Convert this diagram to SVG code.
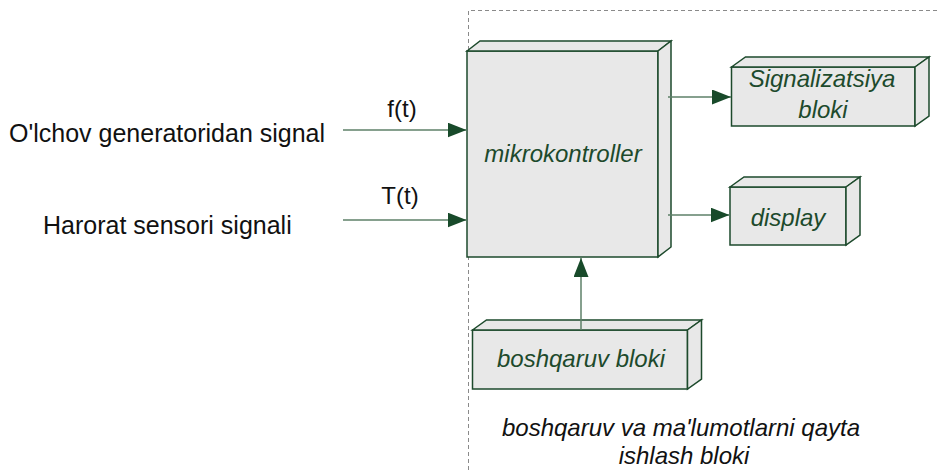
<svg xmlns="http://www.w3.org/2000/svg" width="939" height="470" viewBox="0 0 939 470">
<style>
.face{fill:#e8e8e8;stroke:#1d4a2c;stroke-width:1.5;stroke-linejoin:miter}
.lbl{font-family:"Liberation Sans",Arial,sans-serif;font-style:italic;font-size:24px;fill:#1d4a2c}
.txt{font-family:"Liberation Sans",Arial,sans-serif;font-size:24px;fill:#111}
.conn{stroke:#5e8069;stroke-width:1.5;fill:none}
.frame{stroke:#8a8a8a;stroke-width:1;fill:none;stroke-dasharray:4 3}
</style>
<defs>
<marker id="ah" markerUnits="userSpaceOnUse" markerWidth="20" markerHeight="16" viewBox="0 0 20 16" refX="19" refY="7.5" orient="auto">
<path d="M0,0 L19,7.5 L0,15 z" fill="#184a2a"/>
</marker>
</defs>
<rect width="939" height="470" fill="#ffffff"/>
<path class="frame" d="M468.5,470 V10.5 H939"/>

<g id="mikrokontroller">
<rect class="face" x="467" y="51" width="191" height="206"/>
<polygon class="face" points="467,51 480,41 671,41 658,51"/>
<polygon class="face" points="658,51 671,41 671,247 658,257"/>
<text class="lbl" x="563" y="162" text-anchor="middle">mikrokontroller</text>
</g>

<g id="signalizatsiya">
<rect class="face" x="731.5" y="67" width="183.5" height="59"/>
<polygon class="face" points="731.5,67 745.5,57 929,57 915,67"/>
<polygon class="face" points="915,67 929,57 929,116 915,126"/>
<text class="lbl" x="822" y="87" text-anchor="middle">Signalizatsiya</text>
<text class="lbl" x="823" y="118" text-anchor="middle">bloki</text>
</g>

<g id="display">
<rect class="face" x="730" y="187" width="116" height="58"/>
<polygon class="face" points="730,187 744,177 860,177 846,187"/>
<polygon class="face" points="846,187 860,177 860,235 846,245"/>
<text class="lbl" x="788" y="226" text-anchor="middle">display</text>
</g>

<g id="boshqaruv">
<rect class="face" x="472.5" y="330" width="215" height="59"/>
<polygon class="face" points="472.5,330 486.5,320 701.5,320 687.5,330"/>
<polygon class="face" points="687.5,330 701.5,320 701.5,379 687.5,389"/>
<text class="lbl" x="581" y="367" text-anchor="middle">boshqaruv bloki</text>
</g>

<g id="connectors">
<line class="conn" x1="343" y1="130" x2="466.5" y2="130" marker-end="url(#ah)"/>
<line class="conn" x1="343" y1="220" x2="466.5" y2="220" marker-end="url(#ah)"/>
<line class="conn" x1="668" y1="97" x2="731" y2="97" marker-end="url(#ah)"/>
<line class="conn" x1="668" y1="215" x2="729.5" y2="215" marker-end="url(#ah)"/>
<line class="conn" x1="581" y1="330" x2="581" y2="258" marker-end="url(#ah)"/>
</g>

<g id="labels">
<text class="txt" x="402" y="117" text-anchor="middle">f(t)</text>
<text class="txt" x="400" y="204" text-anchor="middle">T(t)</text>
<text class="txt" x="9" y="142" style="font-size:25px">O'lchov generatoridan signal</text>
<text class="txt" x="43" y="234" style="font-size:25px">Harorat sensori signali</text>
<text class="lbl" x="681" y="436" text-anchor="middle" style="fill:#111">boshqaruv va ma'lumotlarni qayta</text>
<text class="lbl" x="684" y="464" text-anchor="middle" style="fill:#111">ishlash bloki</text>
</g>
</svg>
